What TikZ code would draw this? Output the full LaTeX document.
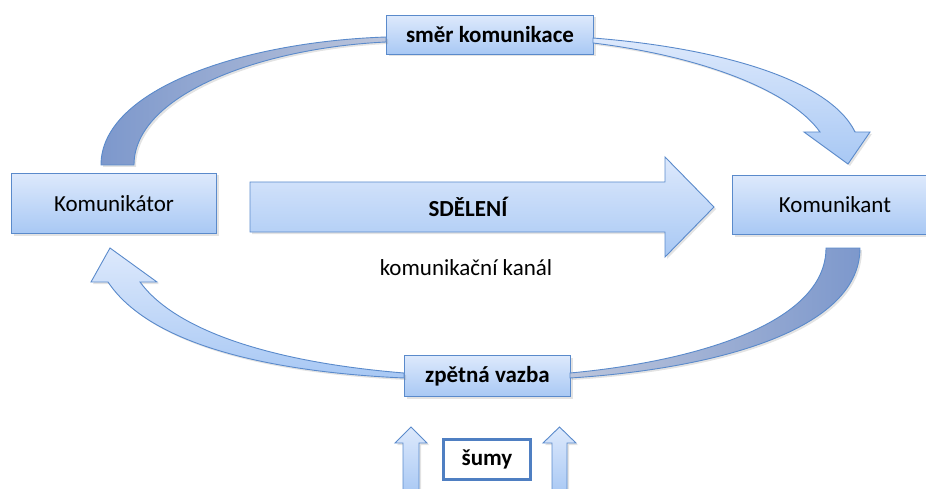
\documentclass[tikz,border=0pt]{standalone}
\usepackage{fontspec}
\setmainfont{Carlito}
\usetikzlibrary{shadows}
\definecolor{boxtop}{HTML}{DDE9FC}
\definecolor{boxbot}{HTML}{A8C8F4}
\definecolor{edge}{HTML}{5A8ACB}
\definecolor{darkA}{HTML}{7D98CC}
\definecolor{darkB}{HTML}{BCC5DB}
\definecolor{noise}{HTML}{4F7FC2}
\begin{document}
\begin{tikzpicture}[x=1pt,y=-1pt,
  txt/.style={font=\fontsize{23}{27}\selectfont, inner sep=0pt},
  soft/.style={drop shadow={opacity=0.22, shadow xshift=2pt, shadow yshift=-2pt}},
  boxnode/.style={txt, rectangle, anchor=north west, draw=edge, line width=1pt,
    top color=boxtop, bottom color=boxbot, soft},
  lightarrow/.style={draw=edge, line width=0.9pt, top color=boxtop, bottom color=boxbot, soft},
  darkarrow/.style={draw=edge, line width=0.9pt, soft},
]
\useasboundingbox (0,0) rectangle (926,489);
\clip (0,0) rectangle (926,489);

% main boxes
\node[boxnode, minimum width=205pt, minimum height=60pt] (sender) at (11,173) {Komunikátor};
\node[boxnode, minimum width=205pt, minimum height=59pt] (receiver) at (732,175) {Komunikant};
\node[boxnode, font=\fontsize{23}{27}\selectfont\bfseries, minimum width=207pt, minimum height=39pt] (direction) at (386,15) {směr komunikace};
\node[boxnode, font=\fontsize{23}{27}\selectfont\bfseries, minimum width=166pt, minimum height=41pt] (feedback) at (404,355) {zpětná vazba};
\node[txt, font=\fontsize{23}{27}\selectfont\bfseries, rectangle, anchor=north west, draw=noise, line width=3pt, fill=white,
  minimum width=87pt, minimum height=40pt] (noise) at (442,438) {šumy};

% message arrow
\draw[lightarrow] (250,182) -- (665,182) -- (665,157) -- (714,207) -- (665,257) -- (665,232) -- (250,232) -- cycle;
\node[txt, font=\fontsize{23}{27}\selectfont\bfseries] (message) at (468,207) {SDĚLENÍ};
\node[txt] (channel) at (466,268) {komunikační kanál};

% sender -> direction box
\draw[darkarrow, left color=darkA, right color=darkB]
  (101,165) .. controls (101,90) and (240,42) .. (386,37)
  -- (386,42) .. controls (260,48) and (134,95) .. (134,165) -- cycle;

% direction box -> receiver
\draw[lightarrow]
  (593,38) .. controls (720,48) and (830,80) .. (855,132)
  -- (870,132) -- (848,164) -- (804,132) -- (820,132)
  .. controls (790,90) and (700,56) .. (593,43) -- cycle;

% receiver -> feedback box
\draw[darkarrow, left color=darkB, right color=darkA]
  (860,248) .. controls (860,335) and (700,370) .. (570,378)
  -- (570,373) .. controls (690,362) and (826,325) .. (826,248) -- cycle;

% feedback box -> sender
\draw[lightarrow]
  (404,373) .. controls (270,362) and (175,330) .. (140,282)
  -- (157,282) -- (110,248) -- (91,282) -- (108,282)
  .. controls (150,345) and (270,372) .. (404,378) -- cycle;

% noise arrows
\draw[lightarrow] (403,495) -- (403,443) -- (395,443) -- (411,427) -- (427,443) -- (419,443) -- (419,495) -- cycle;
\draw[lightarrow] (552,495) -- (552,443) -- (543,443) -- (559.5,427) -- (576,443) -- (567,443) -- (567,495) -- cycle;
\end{tikzpicture}
\end{document}
